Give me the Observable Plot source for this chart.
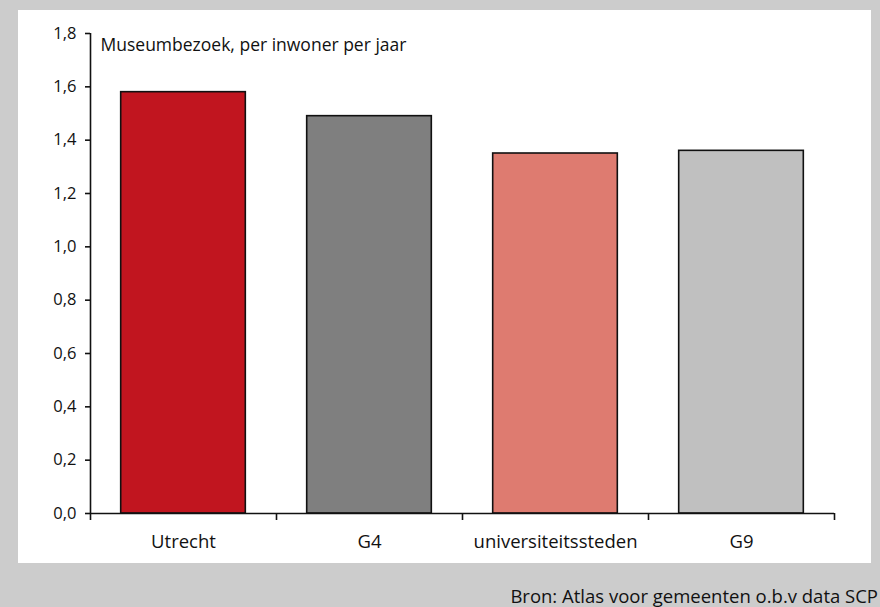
<!DOCTYPE html>
<html>
<head>
<meta charset="utf-8">
<script src="https://cdn.jsdelivr.net/npm/d3@7"></script>
<script src="https://cdn.jsdelivr.net/npm/@observablehq/plot@0.6"></script>
<style>
  html, body { margin: 0; padding: 0; }
  body { width: 880px; height: 607px; background: #cccccc; position: relative; overflow: hidden; font-family: "Open Sans", sans-serif; }
  #panel { position: absolute; left: 18px; top: 10px; width: 853px; height: 553px; background: #ffffff; }
  #source { position: absolute; right: 2px; top: 587px; font-size: 18.5px; line-height: 1; color: #111; white-space: nowrap; }
</style>
</head>
<body>
<div id="panel"></div>
<div id="source">Bron: Atlas voor gemeenten o.b.v data SCP</div>
<script>
const categories = ["Utrecht", "G4", "universiteitssteden", "G9"];
const values = [1.58, 1.49, 1.35, 1.36];
const colors = ["#c1151f", "#7f7f7f", "#de7b70", "#c0c0c0"];
const yTicks = [0, 0.2, 0.4, 0.6, 0.8, 1.0, 1.2, 1.4, 1.6, 1.8];
const title = "Museumbezoek, per inwoner per jaar";

const data = categories.map((c, i) => ({idx: i, cat: c, value: values[i], color: colors[i]}));
const boundaries = d3.range(-0.5, categories.length, 1);
const halfBar = 0.335;

const chart = Plot.plot({
  width: 853,
  height: 553,
  marginLeft: 72,
  marginRight: 37,
  marginTop: 23,
  marginBottom: 50,
  style: {fontFamily: "Open Sans, sans-serif", background: "transparent", color: "#111"},
  x: {type: "linear", domain: [-0.5, categories.length - 0.5], axis: null},
  y: {domain: [0, 1.8], axis: null},
  marks: [
    Plot.rectY(data, {x1: d => d.idx - halfBar, x2: d => d.idx + halfBar, y1: 0, y2: "value", fill: d => d.color, stroke: "#111", strokeWidth: 1.6}),
    Plot.ruleY([0], {stroke: "#111", strokeWidth: 1.6}),
    Plot.ruleX([-0.5], {stroke: "#111", strokeWidth: 1.6}),
    Plot.axisY({ticks: yTicks, label: null, tickSize: 5, tickPadding: 9, tickFormat: d => d.toFixed(1).replace(".", ","), fontSize: 16.5, strokeWidth: 1.6, stroke: "#111"}),
    Plot.axisX({ticks: boundaries, label: null, tickSize: 7, tickFormat: () => "", strokeWidth: 1.6, stroke: "#111"}),
    Plot.axisX({ticks: d3.range(categories.length), label: null, tickSize: 0, tickPadding: 21, tickFormat: i => categories[i], fontSize: 18.5}),
    Plot.text([title], {frameAnchor: "top-left", dx: 10, dy: 12, lineAnchor: "middle", textAnchor: "start", fontSize: 17.5, fill: "#111"})
  ]
});
document.getElementById("panel").appendChild(chart);
</script>
</body>
</html>
